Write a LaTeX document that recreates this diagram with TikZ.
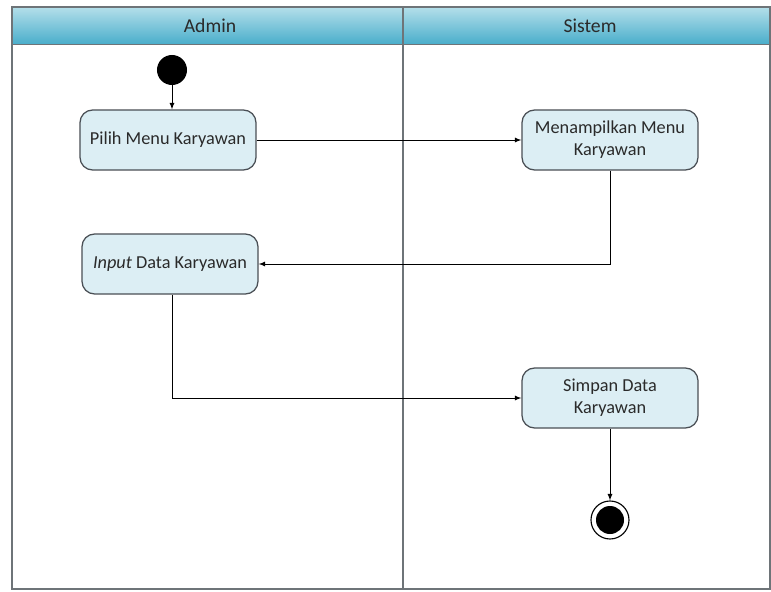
\documentclass[tikz,border=0pt]{standalone}
\usepackage{xcolor}
\usepackage{tikz}
\usepackage{fontspec}
\setmainfont{Carlito}
\usetikzlibrary{shapes,arrows,positioning,calc}
\definecolor{lanetop}{HTML}{B4DFEA}
\definecolor{lanebottom}{HTML}{4AAECB}
\definecolor{actfill}{HTML}{DCEEF4}
\definecolor{actline}{HTML}{4A4F55}
\definecolor{frameline}{HTML}{6E7478}
\definecolor{acttext}{HTML}{2A2A2A}

\tikzset{
    actbox/.style={draw=actline, fill=actfill, text=acttext, rounded corners=9pt, line width=0.9pt, minimum width=4.4cm, minimum height=1.5cm, align=center, font=\fontsize{13}{15.5}\selectfont},
    flow/.style={-latex, line width=0.6pt, black},
    lanehead/.style={draw=frameline, shade, top color=lanetop, bottom color=lanebottom, line width=0.6pt},
}

\begin{document}
\begin{tikzpicture}[x=0.025cm, y=-0.025cm]
        \useasboundingbox (0,0) rectangle (771,592);

        % Swimlanes
        \draw[lanehead] (12,7) rectangle (403,44);
        \draw[lanehead] (403,7) rectangle (770,44);
        \node[text=acttext, font=\fontsize{14}{16}\selectfont] at (210,26) (admin) {Admin};
        \node[text=acttext, font=\fontsize{14}{16}\selectfont] at (590,26) (sistem) {Sistem};
        \draw[frameline, line width=1.2pt] (12,7) rectangle (770,589);
        \draw[frameline, line width=0.8pt] (403,7) -- (403,589);

        % Activities
        \node[circle, fill=black, minimum size=0.75cm, inner sep=0pt] at (172,70) (start) {};
        \node[actbox] at (168,140) (pilih) {Pilih Menu Karyawan};
        \node[actbox] at (610,140) (tampil) {Menampilkan Menu\\Karyawan};
        \node[actbox] at (170,264) (input) {\textit{Input} Data Karyawan};
        \node[actbox] at (610,398) (simpan) {Simpan Data\\Karyawan};
        \node[circle, draw=black, line width=0.8pt, minimum size=0.95cm, inner sep=0pt] at (610,520) (stop) {};
        \node[circle, fill=black, minimum size=0.7cm, inner sep=0pt] at (stop) (stopin) {};

        % Flows
        \draw[flow] (start) -- (start |- pilih.north);
        \draw[flow] (pilih) -- (tampil);
        \draw[flow] (tampil.south) |- (input.east);
        \draw[flow] (input.south -| start) |- (simpan.west);
        \draw[flow] (simpan) -- (stop);

    \end{tikzpicture}
\end{document}
